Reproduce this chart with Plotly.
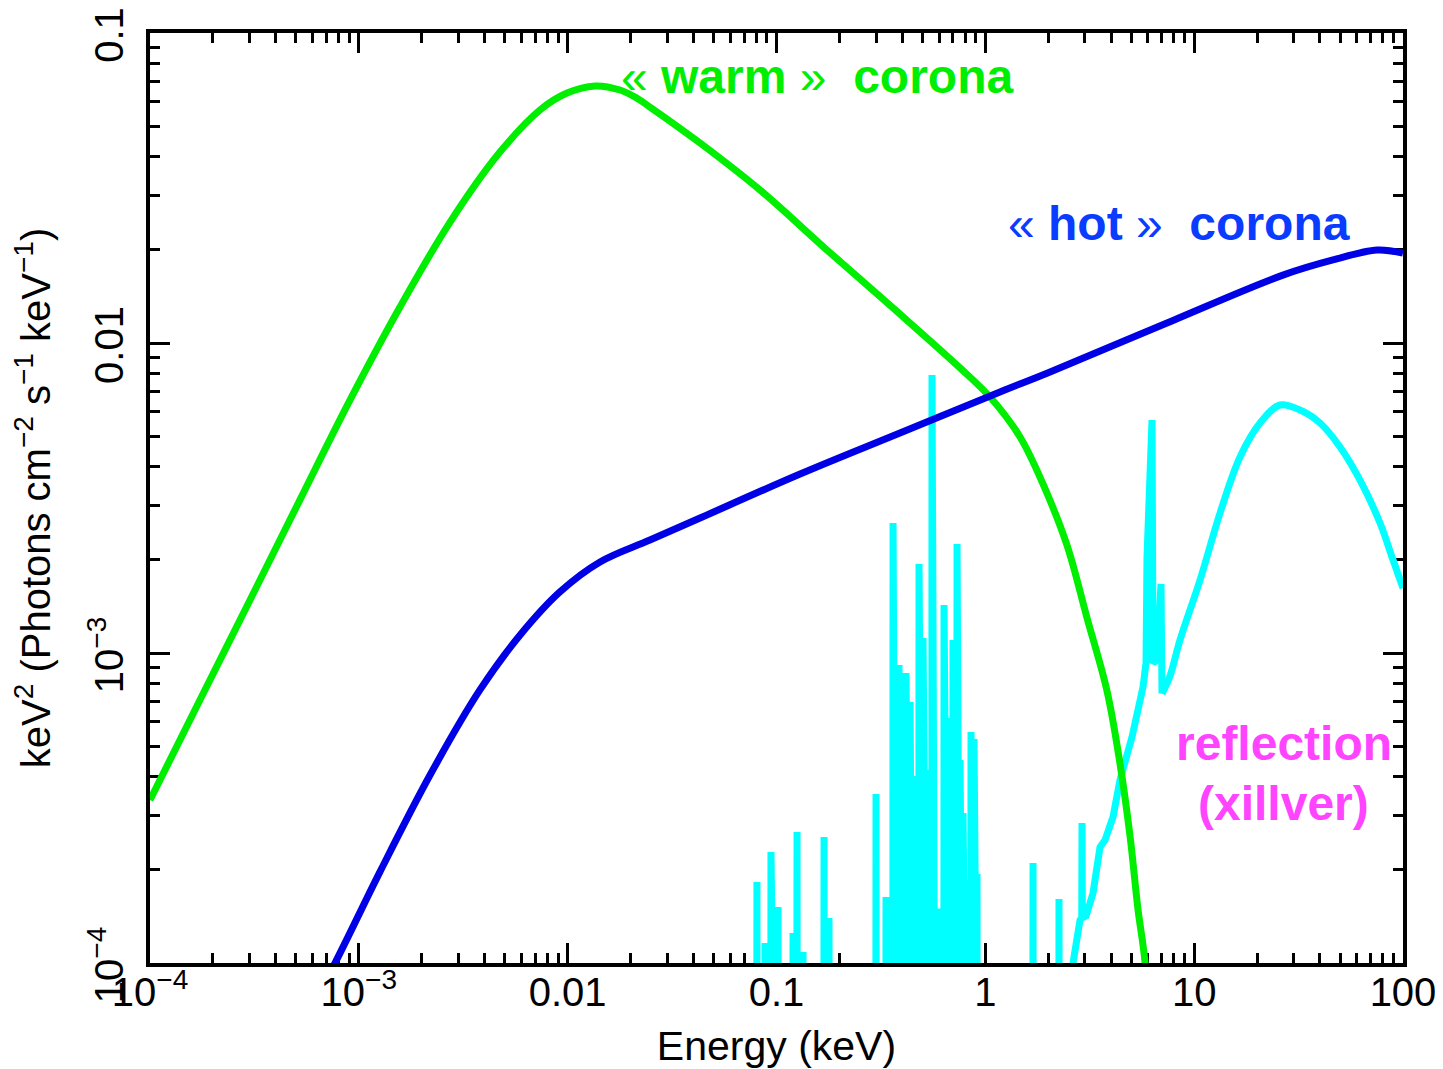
import plotly.graph_objects as go

# ---------------- data ----------------
# warm corona (green)
warm_E = [1.0e-4, 1.734e-4, 3.013e-4, 5.224e-4, 9.08e-4, 1.574e-3, 2.735e-3, 4.74e-3,
          7.38e-3, 9.93e-3, 1.352e-2, 1.782e-2, 2.101e-2, 2.477e-2, 4.305e-2, 8.337e-2,
          0.1745, 0.3612, 0.7563, 1.053, 1.466, 1.888, 2.460, 3.069, 3.828, 4.416,
          4.93, 5.38, 5.82, 6.10]
warm_F = [3.357e-4, 7.05e-4, 1.483e-3, 3.119e-3, 6.55e-3, 1.306e-2, 2.455e-2, 4.13e-2,
          5.65e-2, 6.40e-2, 6.75e-2, 6.55e-2, 6.215e-2, 5.77e-2, 4.416e-2, 3.115e-2,
          1.995e-2, 1.297e-2, 8.31e-3, 6.696e-3, 4.975e-3, 3.51e-3, 2.228e-3, 1.297e-3,
          7.53e-4, 4.39e-4, 2.57e-4, 1.493e-4, 1.0e-4, 5.0e-5]

# hot corona (blue)
hot_E = [6.1e-4, 7.69e-4, 1.262e-3, 2.193e-3, 3.80e-3, 5.92e-3, 9.18e-3, 1.429e-2,
         2.477e-2, 4.305e-2, 0.1297, 0.390, 1.175, 2.042, 7.41, 26.6, 46.2, 75.2, 100.0]
hot_F = [7.5e-5, 1.0e-4, 1.968e-4, 4.04e-4, 7.60e-4, 1.143e-3, 1.574e-3, 1.966e-3,
         2.314e-3, 2.726e-3, 3.779e-3, 5.125e-3, 6.95e-3, 8.065e-3, 1.161e-2, 1.656e-2,
         1.854e-2, 1.995e-2, 1.950e-2]

# reflection (xillver, cyan): soft emission lines (energy keV, peak height)
line_E = [0.0806, 0.0881, 0.0941, 0.0975, 0.1017, 0.1200, 0.1254, 0.1340,
          0.1689, 0.1784, 0.2996,
          0.3345, 0.3458, 0.3614, 0.3735, 0.3861, 0.3990, 0.4170, 0.4359,
          0.4505, 0.4657, 0.4813, 0.5030, 0.5257, 0.5374, 0.5555, 0.5742,
          0.6001, 0.6135, 0.6341, 0.6627, 0.6775, 0.7002, 0.7319, 0.7565,
          0.7819, 0.8082, 0.8262, 0.8540, 0.8827, 0.9124,
          1.692, 2.253]
line_F = [1.825e-4, 1.16e-4, 2.28e-4, 1.20e-4, 1.516e-4, 1.249e-4, 2.646e-4, 1.085e-4,
          2.549e-4, 1.397e-4, 3.51e-4,
          1.632e-4, 1.632e-4, 2.626e-3, 1.632e-4, 9.15e-4, 1.632e-4, 8.62e-4, 6.95e-4,
          4.01e-4, 1.632e-4, 1.937e-3, 1.118e-3, 4.19e-4, 1.632e-4, 7.88e-3, 1.45e-4,
          1.45e-4, 1.50e-4, 1.428e-3, 6.17e-4, 1.60e-4, 1.101e-3, 2.247e-3, 4.52e-4,
          3.048e-4, 1.852e-4, 1.60e-4, 5.56e-4, 5.28e-4, 1.937e-4,
          2.102e-4, 1.609e-4]
line_floor = 4e-5  # below the plotted range

# reflection: hard band with the Fe lines
hard_E = [2.50, 2.630, 2.841, 2.895, 2.904, 2.915, 3.035, 3.171, 3.278, 3.542, 3.742,
          4.087, 4.414, 5.040, 5.690, 5.880, 5.945, 6.283, 6.353, 6.640, 6.937, 7.015]
hard_F = [6e-5, 1.0e-4, 1.376e-4, 1.40e-4, 2.829e-4, 1.40e-4, 1.418e-4, 1.55e-4, 1.68e-4,
          2.367e-4, 2.492e-4, 2.958e-4, 3.894e-4, 5.36e-4, 7.77e-4, 9.29e-4, 2.04e-3,
          5.64e-3, 9.29e-4, 9.5e-4, 1.670e-3, 7.4e-4]

# reflection: Compton hump
hump_E = [7.015, 7.661, 8.554, 10.67, 13.30, 16.58, 20.67, 25.77, 32.13, 40.06,
          49.94, 62.26, 77.62, 89.6, 100.0]
hump_F = [7.4e-4, 8.43e-4, 1.101e-3, 1.72e-3, 2.829e-3, 4.29e-3, 5.52e-3, 6.31e-3,
          6.08e-3, 5.52e-3, 4.62e-3, 3.61e-3, 2.626e-3, 1.995e-3, 1.621e-3]

# ticks
x_tickvals = [1e-4, 1e-3, 1e-2, 1e-1, 1, 10, 100]
x_ticktext = ["10<sup>−4</sup>", "10<sup>−3</sup>", "0.01", "0.1", "1", "10", "100"]
y_tickvals = [1e-4, 1e-3, 1e-2, 1e-1]
y_ticktext = ["10<sup>−4</sup>", "10<sup>−3</sup>", "0.01", "0.1"]
minor_digits = [2, 3, 4, 5, 6, 7, 8, 9]
x_decades = [1e-4, 1e-3, 1e-2, 1e-1, 1, 10]
y_decades = [1e-4, 1e-3, 1e-2]

x_minor = [d * m for d in x_decades for m in minor_digits]
y_minor = [d * m for d in y_decades for m in minor_digits]

# build the emission-line trace: each line is a narrow vertical spike
spike_x, spike_y = [], []
for e, f in zip(line_E, line_F):
    spike_x += [e / 1.002, e, e * 1.002]
    spike_y += [line_floor, f, line_floor]

FONT = "Liberation Sans, Arial, Helvetica, sans-serif"
LW = 7
CYAN = "#00ffff"

fig = go.Figure()
fig.add_trace(go.Scatter(x=spike_x, y=spike_y, mode="lines",
                         line=dict(color=CYAN, width=LW), showlegend=False))
fig.add_trace(go.Scatter(x=hard_E, y=hard_F, mode="lines",
                         line=dict(color=CYAN, width=LW), showlegend=False))
fig.add_trace(go.Scatter(x=hump_E, y=hump_F, mode="lines",
                         line=dict(color=CYAN, width=LW, shape="spline", smoothing=1.0),
                         showlegend=False))
fig.add_trace(go.Scatter(x=warm_E, y=warm_F, mode="lines",
                         line=dict(color="#00ee00", width=LW, shape="spline", smoothing=1.0),
                         showlegend=False))
fig.add_trace(go.Scatter(x=hot_E, y=hot_F, mode="lines",
                         line=dict(color="#0000e6", width=LW, shape="spline", smoothing=1.0),
                         showlegend=False))

axis_common = dict(
    type="log", showgrid=False, zeroline=False,
    showline=True, linecolor="black", linewidth=4, mirror="allticks",
    ticks="inside", ticklen=20, tickwidth=3, tickcolor="black",
    tickfont=dict(family=FONT, size=40, color="black"),
    layer="below traces", ticklabeloverflow="allow",
)

fig.update_xaxes(
    **axis_common,
    range=[-4, 2],
    tickmode="array", tickvals=x_tickvals, ticktext=x_ticktext,
    ticklabelstandoff=-9,
    minor=dict(tickmode="array", tickvals=x_minor, ticks="inside", ticklen=10,
               tickwidth=3, tickcolor="black", showgrid=False),
    title=dict(text="Energy (keV)", font=dict(family=FONT, size=41, color="black"), standoff=25),
)
fig.update_yaxes(
    **axis_common,
    range=[-4, -1],
    tickmode="array", tickvals=y_tickvals, ticktext=y_ticktext,
    tickangle=-90,
    ticklabelstandoff=7, ticklabelshift=8,
    minor=dict(tickmode="array", tickvals=y_minor, ticks="inside", ticklen=10,
               tickwidth=3, tickcolor="black", showgrid=False),
    title=dict(text="keV<sup>2</sup> (Photons cm<sup>−2</sup> s<sup>−1</sup> keV<sup>−1</sup>)",
               font=dict(family=FONT, size=40, color="black"), standoff=20),
)

# page body has an 8px margin: the figure is sized/offset so that the plot
# frame lands at x 150..1403, y 33..963 of the window
PAGE_OFF = 8
W, H = 1443 - PAGE_OFF, 1069 - PAGE_OFF
L, T = 150 - PAGE_OFF, 33 - PAGE_OFF
R = W - L - 1253
B = H - T - 930

labels = [
    dict(text="« <b>warm</b> »  <b>corona</b>", x=0.532, y=76, color="#00ee00"),
    dict(text="« <b>hot</b> »  <b>corona</b>", x=0.821, y=224, color="#0a3cff"),
    dict(text="<b>reflection</b>", x=0.905, y=743, color="#ff44ff"),
    dict(text="<b>(xillver)</b>", x=0.905, y=803, color="#ff44ff"),
]
for a in labels:
    fig.add_annotation(
        text=a["text"], xref="paper", yref="paper",
        x=a["x"], y=1 - (a["y"] - 33) / 930.0, xanchor="center", yanchor="middle",
        showarrow=False, font=dict(family=FONT, size=48, color=a["color"]),
    )

fig.update_layout(
    width=W, height=H,
    margin=dict(l=L, r=R, t=T, b=B, autoexpand=False),
    paper_bgcolor="white", plot_bgcolor="white",
    showlegend=False,
)

fig.write_html("out.html")
